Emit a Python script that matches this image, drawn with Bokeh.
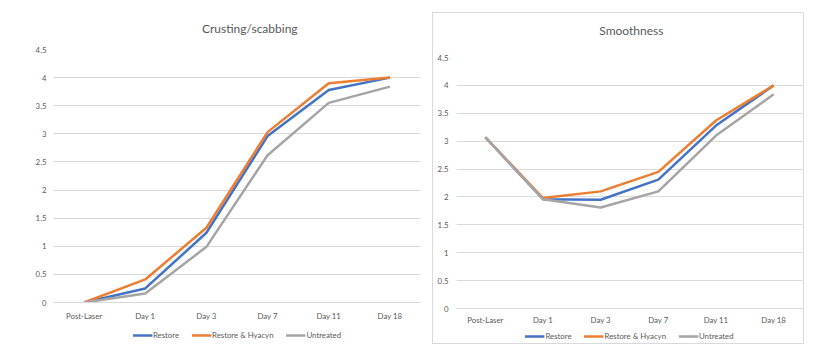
from bokeh.plotting import figure
from bokeh.models import (Legend, LegendItem, FixedTicker, NumeralTickFormatter,
                          ColumnDataSource, Spacer, Label, Range1d)
from bokeh.layouts import row, column
from bokeh.embed import file_html
from bokeh.resources import INLINE

categories = ["Post-Laser", "Day 1", "Day 3", "Day 7", "Day 11", "Day 18"]
series_names = ["Restore", "Restore & Hyacyn", "Untreated"]

crust_restore = [0, 0.25, 1.24, 2.96, 3.78, 4.0]
crust_hyacyn = [0, 0.41, 1.33, 3.03, 3.90, 4.0]
crust_untreated = [0, 0.16, 0.99, 2.62, 3.55, 3.84]

smooth_restore = [3.07, 1.96, 1.95, 2.31, 3.28, 4.0]
smooth_hyacyn = [3.07, 1.98, 2.10, 2.45, 3.37, 4.0]
smooth_untreated = [3.07, 1.96, 1.81, 2.10, 3.10, 3.84]

y_ticks = [0, 0.5, 1, 1.5, 2, 2.5, 3, 3.5, 4, 4.5]

COLORS = ["#4472C4", "#ED7D31", "#A5A5A5"]
FONT = "Lato"
TXT = "#595959"
GRID = "#d9d9d9"
LW = 2.5
SMALL = "7.8px"


def blank(width, height):
    q = figure(x_range=Range1d(0, width), y_range=Range1d(0, height),
               width=width, height=height, output_backend="svg",
               toolbar_location=None, x_axis_type=None, y_axis_type=None,
               min_border_left=0, min_border_right=0, min_border_top=0,
               min_border_bottom=0, outline_line_color=None,
               background_fill_color="white", border_fill_color="white")
    q.grid.visible = False
    return q


def make_title(text, width, height, cx, cy):
    q = blank(width, height)
    q.add_layout(Label(x=cx, y=height - cy, text=text, text_align="center",
                       text_baseline="middle", text_font=FONT,
                       text_font_size="12px", text_color=TXT))
    return q


def make_chart(src, width, height, bl, br, bt, bb, xlab_standoff, ylab_standoff):
    p = figure(x_range=categories, y_range=(0, 4.5), width=width, height=height,
               output_backend="svg", toolbar_location=None,
               min_border_left=bl, min_border_right=br, min_border_top=bt,
               min_border_bottom=bb, outline_line_color=None,
               background_fill_color="white", border_fill_color="white")

    for key, col in zip(["a", "b", "c"], COLORS):
        p.line("x", key, source=src, line_color=col, line_width=LW)

    p.xgrid.grid_line_color = None
    p.ygrid.grid_line_color = GRID
    p.ygrid.grid_line_width = 1
    p.ygrid.ticker = FixedTicker(ticks=y_ticks)

    p.yaxis.ticker = FixedTicker(ticks=y_ticks)
    p.yaxis.formatter = NumeralTickFormatter(format="0.[0]")
    p.yaxis.axis_line_color = None
    p.yaxis.major_tick_line_color = None
    p.yaxis.minor_tick_line_color = None
    p.yaxis.major_tick_out = 0
    p.yaxis.major_tick_in = 0
    p.yaxis.minor_tick_out = 0
    p.yaxis.major_label_text_font = FONT
    p.yaxis.major_label_text_font_size = SMALL
    p.yaxis.major_label_text_color = TXT
    p.yaxis.major_label_standoff = ylab_standoff

    p.xaxis.axis_line_color = GRID
    p.xaxis.major_tick_line_color = None
    p.xaxis.minor_tick_line_color = None
    p.xaxis.major_tick_out = 0
    p.xaxis.major_tick_in = 0
    p.xaxis.minor_tick_out = 0
    p.xaxis.major_label_text_font = FONT
    p.xaxis.major_label_text_font_size = SMALL
    p.xaxis.major_label_text_color = TXT
    p.xaxis.major_label_standoff = xlab_standoff
    return p


def make_legend(src, width, height, bl, br):
    # legend strip: same series, drawn outside the visible range so only the legend shows
    q = figure(x_range=categories, y_range=(100, 101), width=width, height=height,
               output_backend="svg", toolbar_location=None,
               x_axis_type=None, y_axis_type=None,
               min_border_left=bl, min_border_right=br, min_border_top=0,
               min_border_bottom=0, outline_line_color=None,
               background_fill_color="white", border_fill_color="white")
    q.grid.visible = False
    renderers = []
    for key, col in zip(["a", "b", "c"], COLORS):
        renderers.append(q.line("x", key, source=src, line_color=col, line_width=LW))
    items = [LegendItem(label=n, renderers=[r]) for n, r in zip(series_names, renderers)]
    leg = Legend(items=items, orientation="horizontal", location="center",
                 glyph_width=20, glyph_height=10, label_standoff=1, spacing=12,
                 padding=0, margin=0, border_line_color=None,
                 background_fill_alpha=0,
                 label_text_font=FONT, label_text_font_size=SMALL,
                 label_text_color=TXT, label_height=10)
    q.add_layout(leg, "center")
    return q


src_crust = ColumnDataSource(dict(x=categories, a=crust_restore, b=crust_hyacyn,
                                  c=crust_untreated))
src_smooth = ColumnDataSource(dict(x=categories, a=smooth_restore, b=smooth_hyacyn,
                                   c=smooth_untreated))

# left panel: page y 0..356
left_title = make_title("Crusting/scabbing", 432, 40, 231, 28)
left = make_chart(src_crust, 432, 283, 53, 12, 9, 20, 8, 7)
left_leg = make_legend(src_crust, 432, 24, 44, 12)

# right panel: boxed, inner page y 13..343, x 433..803
right_title = make_title("Smoothness", 370, 36, 187, 17)
right = make_chart(src_smooth, 370, 279, 23, 1, 8, 20, 6, 8)
right_leg = make_legend(src_smooth, 370, 15, 8, 1)

boxed = column(right_title, right, right_leg, spacing=0,
               styles={"border": "1px solid #d9d9d9"})
layout = row(column(left_title, left, left_leg, spacing=0),
             column(Spacer(height=12, width=10), boxed, spacing=0), spacing=0)

open("out.html", "w").write(file_html(layout, INLINE))
